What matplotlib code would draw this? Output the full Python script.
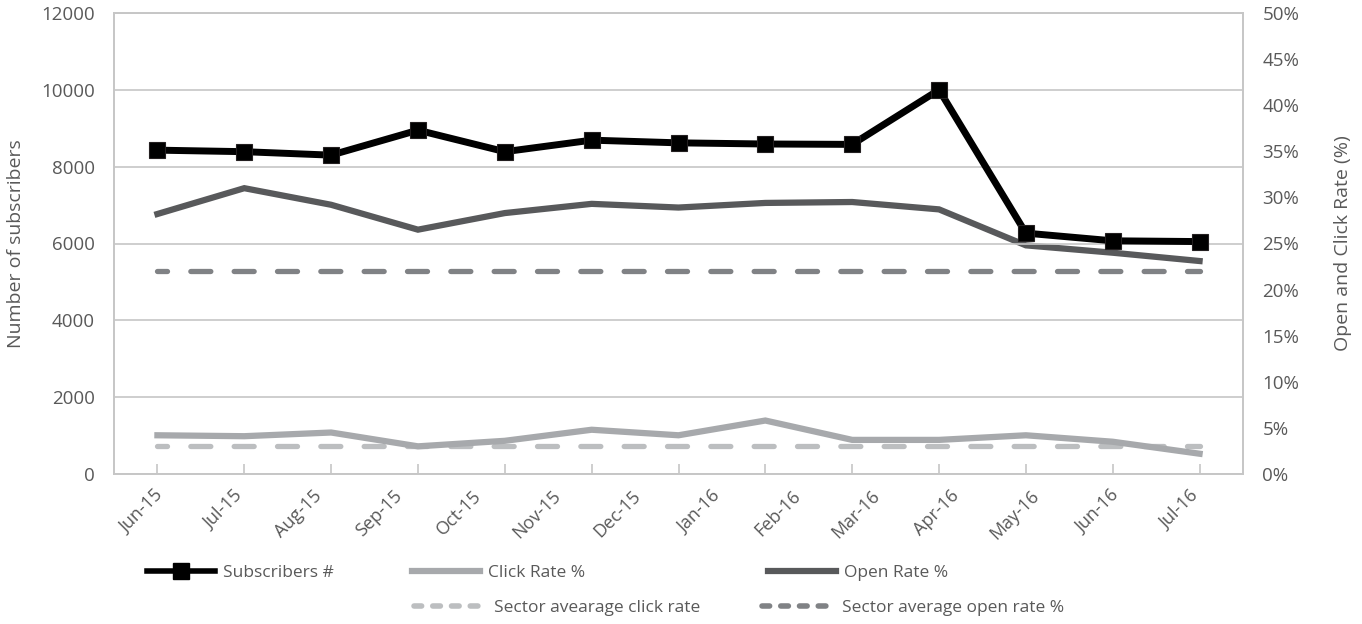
import numpy as np
import matplotlib
matplotlib.use("Agg")
import matplotlib.pyplot as plt
from matplotlib.lines import Line2D

# monthly newsletter stats
month_labels = ["Jun-15", "Jul-15", "Aug-15", "Sep-15", "Oct-15", "Nov-15", "Dec-15",
                "Jan-16", "Feb-16", "Mar-16", "Apr-16", "May-16", "Jun-16", "Jul-16"]
subscribers = [8430, 8390, 8300, 8950, 8390, 8690, 8620, 8590, 8580, 10000, 6270, 6070, 6050]
open_rate = [28.2, 31.0, 29.2, 26.5, 28.3, 29.3, 28.9, 29.4, 29.5, 28.7, 24.8, 24.0, 23.1]
click_rate = [4.2, 4.1, 4.5, 3.0, 3.6, 4.8, 4.2, 5.8, 3.7, 3.7, 4.2, 3.5, 2.2]
sector_open_avg = 22.0
sector_click_avg = 3.0

plt.rcParams["font.family"] = ["Open Sans", "DejaVu Sans"]
plt.rcParams["lines.scale_dashes"] = False

GRID = "#C6C6C6"
TXT = "#595959"
C_OPEN = "#58595B"
C_CLICK = "#A7A9AC"
C_SCLICK = "#BCBEC0"
C_SOPEN = "#808285"

fig = plt.figure(figsize=(13.62, 6.24), dpi=100)
ax = fig.add_axes([114 / 1362, 1 - 474 / 624, 1129 / 1362, 461 / 624])
ax2 = ax.twinx()

x = np.arange(len(subscribers))

# rates on the right-hand axis
ax2.plot(x, [sector_click_avg] * len(x), color=C_SCLICK, lw=3.8,
         linestyle=(7.2, (14.4, 16.8)), dash_capstyle="round")
ax2.plot(x, [sector_open_avg] * len(x), color=C_SOPEN, lw=3.8,
         linestyle=(7.2, (14.4, 16.8)), dash_capstyle="round")
ax2.plot(x, click_rate, color=C_CLICK, lw=4.5, solid_joinstyle="miter")
ax2.plot(x, open_rate, color=C_OPEN, lw=4.5, solid_joinstyle="miter")

# subscriber count on the left axis, drawn on top
ax.set_zorder(ax2.get_zorder() + 1)
ax.patch.set_visible(False)
ax.plot(x, subscribers, color="black", lw=5, marker="s", ms=12,
        mfc="black", mec="#231F20", mew=0.8)

ax.set_xlim(-0.5, len(x) - 0.5)
ax.set_ylim(0, 12000)
ax.set_yticks(np.arange(0, 12001, 2000))
ax2.set_ylim(0, 50)
ax2.set_yticks(np.arange(0, 51, 5))
ax2.set_yticklabels([f"{v}%" for v in range(0, 51, 5)])

ax.yaxis.grid(True, color=GRID, lw=1.2)
ax.set_axisbelow(True)
for a in (ax, ax2):
    for s in a.spines.values():
        s.set_color(GRID)
        s.set_linewidth(1.2)

ax.tick_params(axis="y", length=0, pad=14, labelsize=13.5, labelcolor=TXT)
ax2.tick_params(axis="y", length=0, pad=14, labelsize=13.5, labelcolor=TXT)

# tick marks at the data points, month labels spread evenly underneath
ax.set_xticks(x)
ax.set_xticklabels([])
ax.tick_params(axis="x", which="major", direction="in", length=7.5, width=1.2, color=GRID)
label_pos = 0.104 + 0.9174 * np.arange(len(month_labels))
ax.set_xticks(label_pos, minor=True)
ax.set_xticklabels(month_labels, minor=True, rotation=45, ha="right")
ax.tick_params(axis="x", which="minor", length=0, pad=9, labelsize=13, labelcolor=TXT)

ax.set_ylabel("Number of subscribers", fontsize=14, color=TXT)
ax.yaxis.set_label_coords(-0.079, 0.5)
ax2.set_ylabel("Open and Click Rate (%)", fontsize=14, color=TXT, rotation=90)
ax2.yaxis.set_label_coords(1.081, 0.5)

# legend, laid out like the original two rows
fs = 12.5
items = [
    (Line2D([], [], color="black", lw=4, marker="s", ms=12, mfc="black"), "Subscribers #", 147, 573, 68),
    (Line2D([], [], color=C_CLICK, lw=4.5), "Click Rate %", 412, 573, 68),
    (Line2D([], [], color=C_OPEN, lw=4.5), "Open Rate %", 768, 573, 68),
    (Line2D([], [], color=C_SCLICK, lw=4, linestyle=(0, (5.5, 8)), dash_capstyle="round"),
     "Sector avearage click rate", 414, 608, 72),
    (Line2D([], [], color=C_SOPEN, lw=4, linestyle=(0, (5.5, 8)), dash_capstyle="round"),
     "Sector average open rate %", 762, 608, 72),
]
for handle, label, px, py, hl in items:
    leg = fig.legend([handle], [label], loc="center left",
                     bbox_to_anchor=(px / 1362, 1 - py / 624),
                     frameon=False, borderpad=0, borderaxespad=0,
                     handlelength=hl * 0.72 / fs, handletextpad=0.45,
                     prop={"size": fs})
    for t in leg.get_texts():
        t.set_color(TXT)

fig.savefig("out.png", dpi=100)
